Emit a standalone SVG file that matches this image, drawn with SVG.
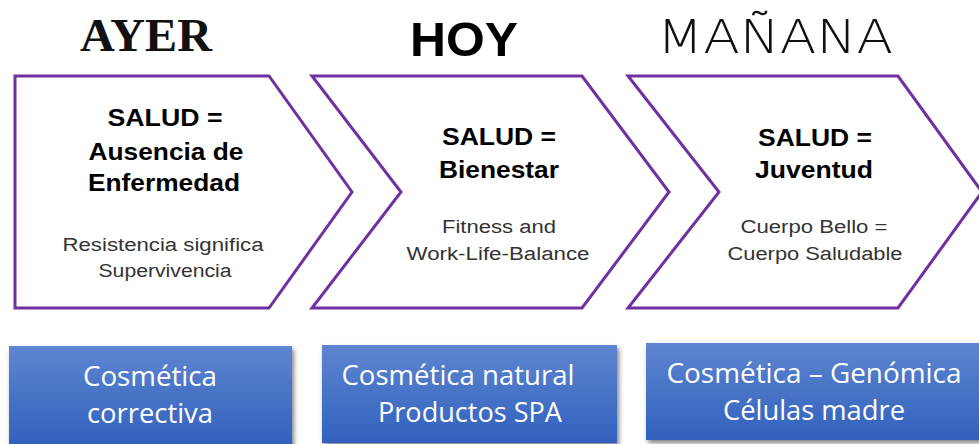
<svg xmlns="http://www.w3.org/2000/svg" width="979" height="444" viewBox="0 0 979 444">
<defs>
<linearGradient id="bg" x1="0" y1="0" x2="0" y2="1">
<stop offset="0" stop-color="#5E85D0"/>
<stop offset="1" stop-color="#3161BD"/>
</linearGradient>
<filter id="sh" x="-10%" y="-10%" width="130%" height="130%">
<feGaussianBlur in="SourceAlpha" stdDeviation="2.5"/>
<feOffset dx="2" dy="3" result="b"/>
<feComponentTransfer><feFuncA type="linear" slope="0.5"/></feComponentTransfer>
<feMerge><feMergeNode/><feMergeNode in="SourceGraphic"/></feMerge>
</filter>
</defs>
<style>
.chev{fill:#fff;stroke:#7030A0;stroke-width:3;stroke-linejoin:miter}
.t{font-family:"Liberation Sans",Arial,sans-serif;text-anchor:middle;fill:#000}
.b{font-weight:bold;font-size:23px}
.s{font-size:18px;fill:#333}
.box{fill:url(#bg)}
.w{font-family:"Open Sans","Liberation Sans",sans-serif;fill:#fff;font-size:27px;text-anchor:middle}
</style>
<rect width="979" height="444" fill="#fff"/>
<g id="heading-ayer"><text x="146" y="51" font-family="Liberation Serif,serif" font-weight="bold" font-size="46" text-anchor="middle" fill="#111" textLength="132" lengthAdjust="spacingAndGlyphs">AYER</text></g>
<g id="heading-hoy"><text x="464" y="56" class="t" font-weight="bold" font-size="48" textLength="108" lengthAdjust="spacingAndGlyphs">HOY</text></g>
<g id="heading-manana"><text x="775" y="53" font-family="DejaVu Sans,sans-serif" font-weight="200" font-size="47" text-anchor="middle" fill="#111" textLength="236" lengthAdjust="spacingAndGlyphs">MAÑANA</text></g>

<g id="ayer">
<polygon class="chev" points="15,76 269,76 352,192 269,308 15,308"/>
<text class="t b" x="165" y="126" textLength="115" lengthAdjust="spacingAndGlyphs">SALUD =</text>
<text class="t b" x="166" y="160" textLength="155" lengthAdjust="spacingAndGlyphs">Ausencia de</text>
<text class="t b" x="164" y="191" textLength="152" lengthAdjust="spacingAndGlyphs">Enfermedad</text>
<text class="t s" x="163" y="251" textLength="201" lengthAdjust="spacingAndGlyphs">Resistencia significa</text>
<text class="t s" x="165" y="277" textLength="133" lengthAdjust="spacingAndGlyphs">Supervivencia</text>
</g>
<g id="hoy">
<polygon class="chev" points="312,76 582,76 669,192 582,308 312,308 401,192"/>
<text class="t b" x="499" y="145" textLength="114" lengthAdjust="spacingAndGlyphs">SALUD =</text>
<text class="t b" x="499" y="178" textLength="120" lengthAdjust="spacingAndGlyphs">Bienestar</text>
<text class="t s" x="499" y="233" textLength="114" lengthAdjust="spacingAndGlyphs">Fitness and</text>
<text class="t s" x="498" y="260" textLength="183" lengthAdjust="spacingAndGlyphs">Work-Life-Balance</text>
</g>
<g id="manana">
<polygon class="chev" points="628,76 898,76 982,192 898,308 628,308 719,192"/>
<text class="t b" x="815" y="146" textLength="114" lengthAdjust="spacingAndGlyphs">SALUD =</text>
<text class="t b" x="814" y="178" textLength="118" lengthAdjust="spacingAndGlyphs">Juventud</text>
<text class="t s" x="814" y="233" textLength="147" lengthAdjust="spacingAndGlyphs">Cuerpo Bello =</text>
<text class="t s" x="815" y="260" textLength="175" lengthAdjust="spacingAndGlyphs">Cuerpo Saludable</text>
</g>

<g id="box-correctiva">
<rect class="box" x="9" y="346" width="283" height="100" filter="url(#sh)"/>
<text class="w" x="150" y="386" textLength="134" lengthAdjust="spacingAndGlyphs">Cosmética</text>
<text class="w" x="150" y="423" textLength="126" lengthAdjust="spacingAndGlyphs">correctiva</text>
</g>
<g id="box-natural">
<rect class="box" x="322" y="345" width="295" height="98" filter="url(#sh)"/>
<text class="w" x="458" y="385" textLength="233" lengthAdjust="spacingAndGlyphs">Cosmética natural</text>
<text class="w" x="470" y="422" textLength="184" lengthAdjust="spacingAndGlyphs">Productos SPA</text>
</g>
<g id="box-genomica">
<rect class="box" x="646" y="343" width="340" height="97" filter="url(#sh)"/>
<text class="w" x="814" y="383" textLength="295" lengthAdjust="spacingAndGlyphs">Cosmética – Genómica</text>
<text class="w" x="814" y="420" textLength="182" lengthAdjust="spacingAndGlyphs">Células madre</text>
</g>
<g id="connectors"></g>
</svg>
